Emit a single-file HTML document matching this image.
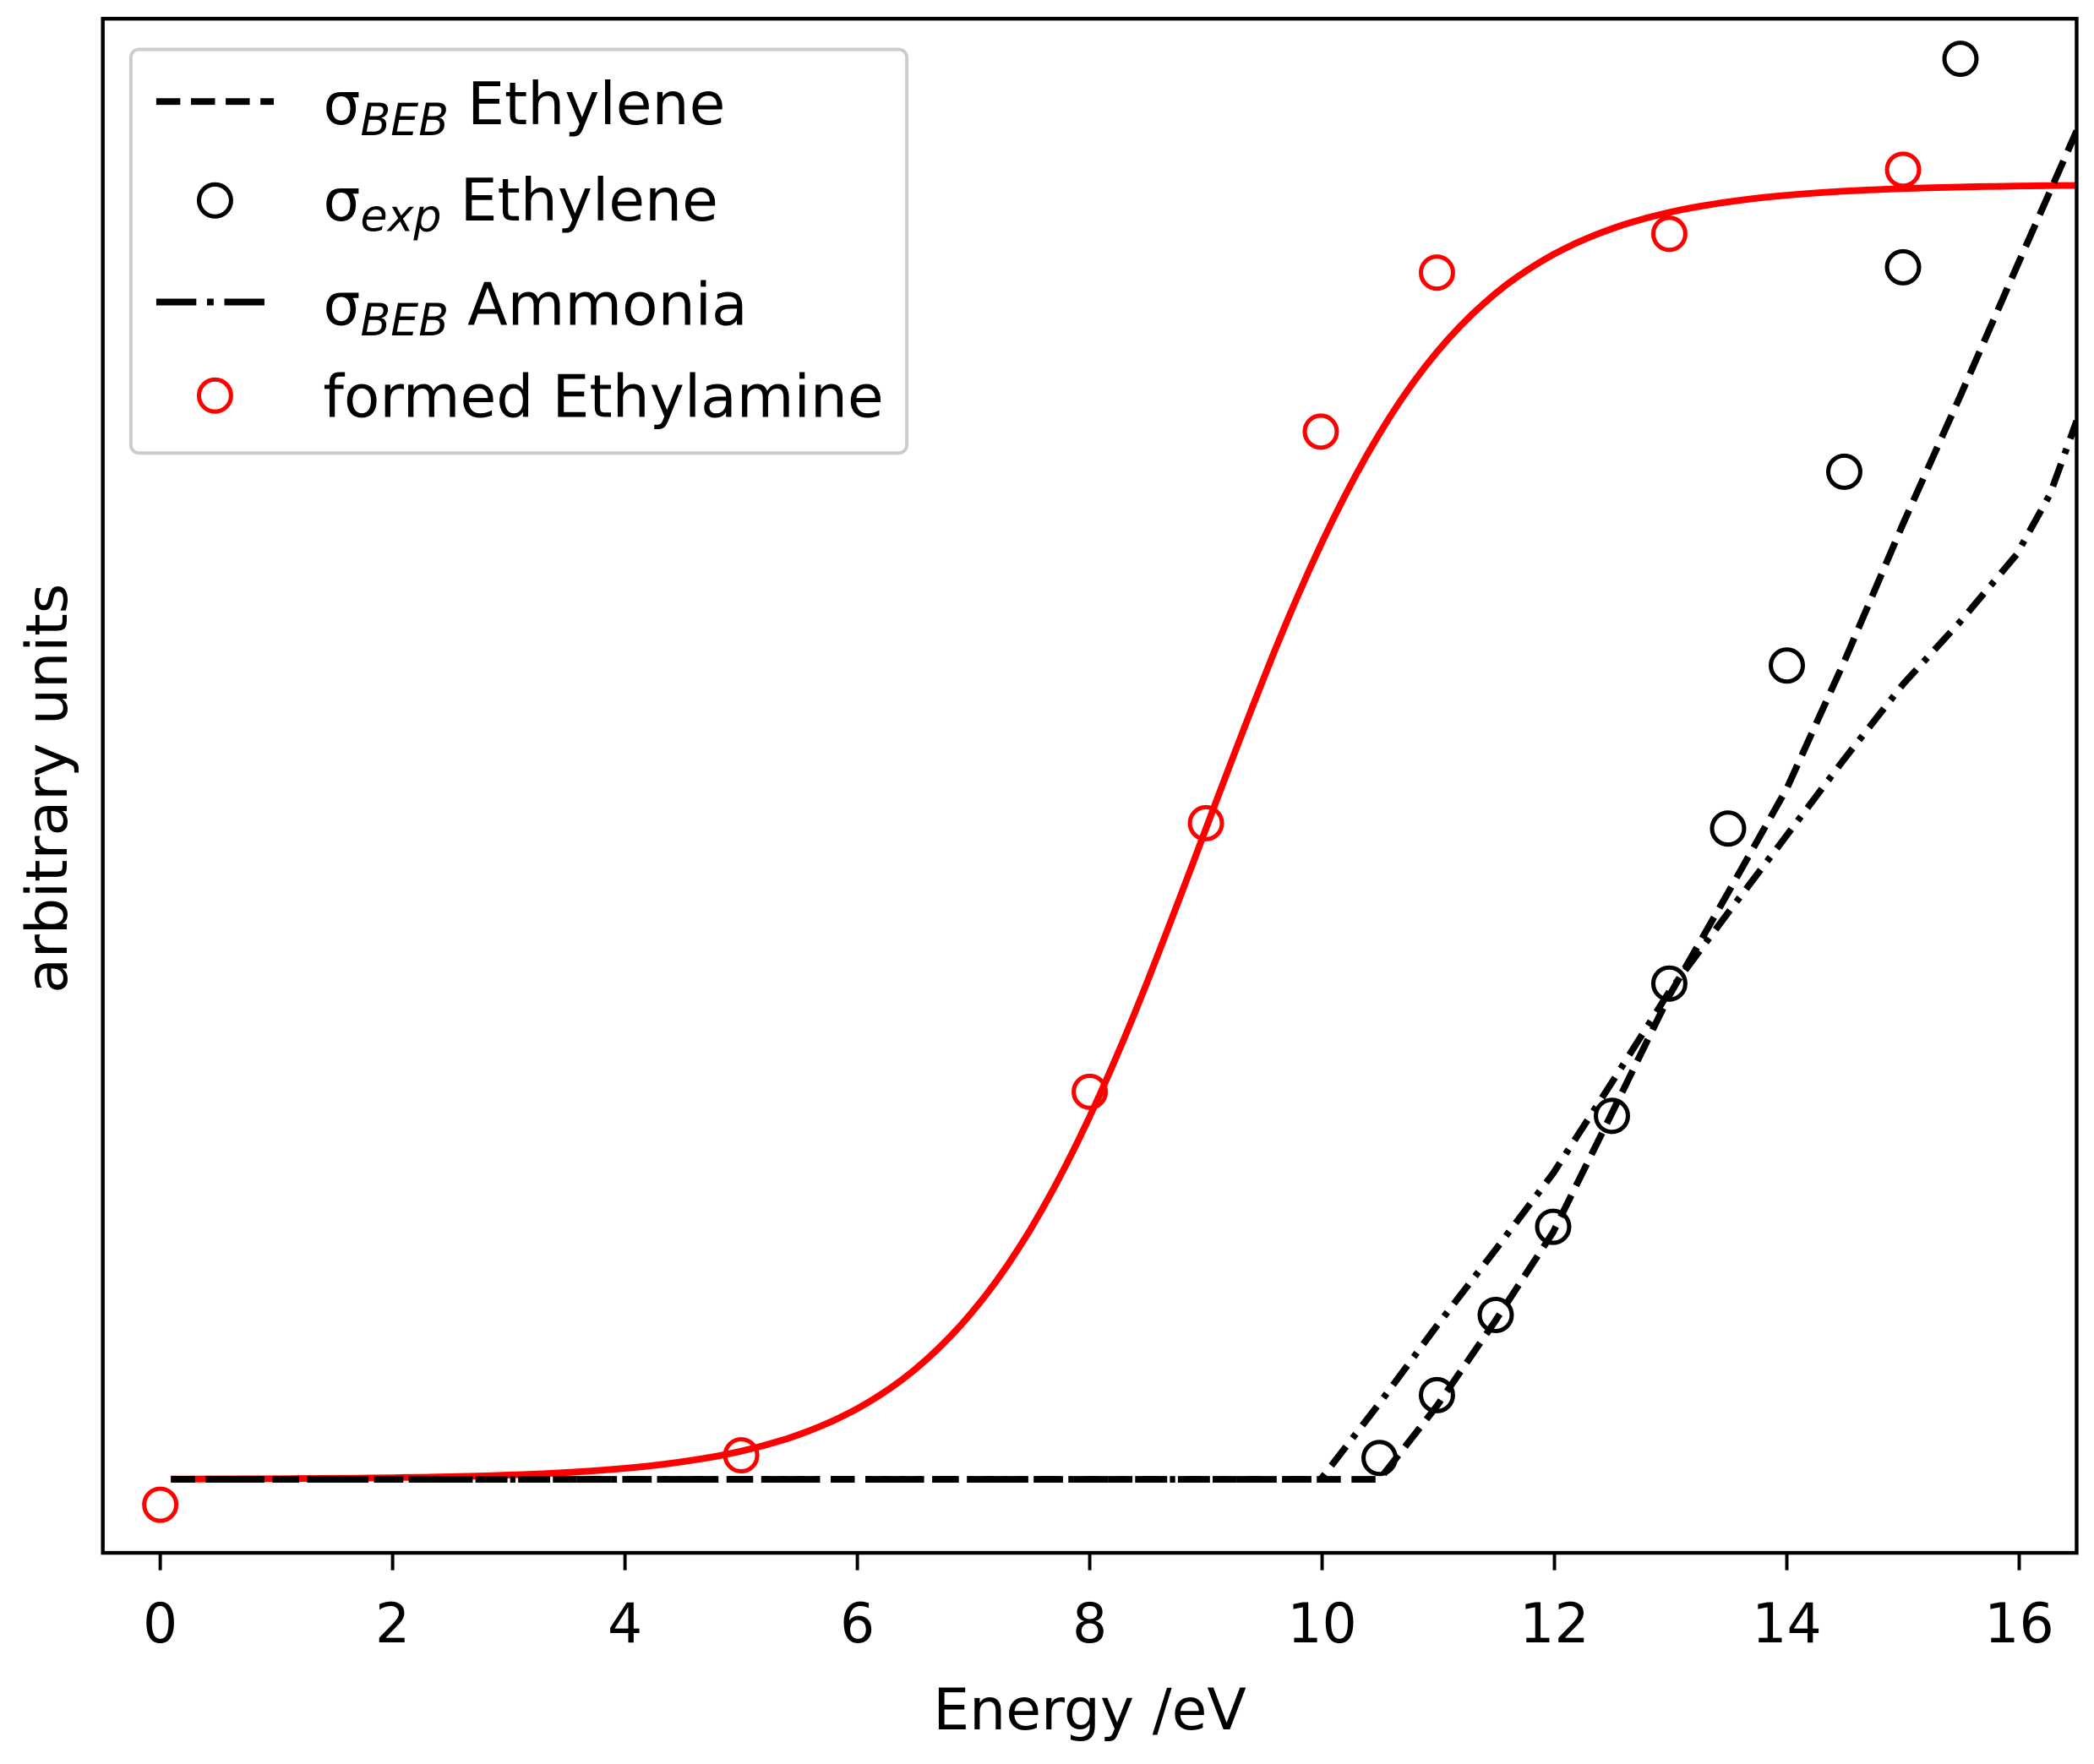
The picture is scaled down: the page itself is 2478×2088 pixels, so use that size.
<!DOCTYPE html>
<html><head><meta charset="utf-8"><style>
html,body{margin:0;padding:0;background:#fff;}
svg{display:block;}
text{font-family:"DejaVu Sans","Liberation Sans",sans-serif;fill:#000;}
</style></head><body>
<svg id="s" width="2478" height="2088" viewBox="0 0 1568 1320" preserveAspectRatio="none" xmlns="http://www.w3.org/2000/svg">
<rect x="0" y="0" width="1568" height="1320" fill="#fff"/>
<defs><clipPath id="c"><rect x="77" y="14" width="1478" height="1148"/></clipPath></defs>
<g clip-path="url(#c)" fill="none" stroke-width="5">
<path id="red" stroke="#ff0000" d=""/>
<path stroke="#000" stroke-dasharray="18,8" d="M128,1107 L1033,1107 L1076,1052 L1120,988 L1163,922 L1207,833 L1250,745 L1294,668 L1338,590 L1381,495 L1425,392 L1468,296 L1510,200 L1555,98"/>
<path stroke="#000" stroke-dasharray="18,8,4,8" d="M128,1107 L989,1107 L1033,1050 L1076,992 L1120,935 L1163,878 L1207,810 L1250,742 L1294,683 L1338,625 L1381,568 L1425,512 L1468,465 L1510,415 L1535,370 L1555,315"/>
</g>
<g fill="none" stroke="#ff0000" stroke-width="3.2">
<ellipse cx="120" cy="1126" rx="12" ry="12"/><ellipse cx="555" cy="1089" rx="12" ry="12"/>
<ellipse cx="816" cy="817" rx="12" ry="12"/><ellipse cx="903" cy="616" rx="12" ry="12"/>
<ellipse cx="989" cy="323" rx="12" ry="12"/><ellipse cx="1076" cy="204" rx="12" ry="12"/>
<ellipse cx="1250" cy="175" rx="12" ry="12"/><ellipse cx="1425" cy="127" rx="12" ry="12"/>
</g>
<g fill="none" stroke="#000" stroke-width="3.2">
<ellipse cx="1033" cy="1091" rx="12" ry="12"/><ellipse cx="1076" cy="1044" rx="12" ry="12"/>
<ellipse cx="1120" cy="984" rx="12" ry="12"/><ellipse cx="1163" cy="918" rx="12" ry="12"/>
<ellipse cx="1207" cy="835" rx="12" ry="12"/><ellipse cx="1250" cy="736" rx="12" ry="12"/>
<ellipse cx="1294" cy="620" rx="12" ry="12"/><ellipse cx="1338" cy="498" rx="12" ry="12"/>
<ellipse cx="1381" cy="353" rx="12" ry="12"/><ellipse cx="1425" cy="200" rx="12" ry="12"/>
<ellipse cx="1468" cy="44" rx="12" ry="12"/>
</g>
<rect x="77" y="14" width="1478" height="1148" fill="none" stroke="#000" stroke-width="2.8"/>
<g stroke="#000" stroke-width="2.5">
<line x1="120" y1="1162" x2="120" y2="1175"/><line x1="294" y1="1162" x2="294" y2="1175"/>
<line x1="468" y1="1162" x2="468" y2="1175"/><line x1="642" y1="1162" x2="642" y2="1175"/>
<line x1="816" y1="1162" x2="816" y2="1175"/><line x1="990" y1="1162" x2="990" y2="1175"/>
<line x1="1164" y1="1162" x2="1164" y2="1175"/><line x1="1338" y1="1162" x2="1338" y2="1175"/>
<line x1="1512" y1="1162" x2="1512" y2="1175"/>
</g>
<g font-size="41" text-anchor="middle">
<text x="120" y="1229">0</text><text x="294" y="1229">2</text><text x="468" y="1229">4</text>
<text x="642" y="1229">6</text><text x="816" y="1229">8</text><text x="990" y="1229">10</text>
<text x="1164" y="1229">12</text><text x="1338" y="1229">14</text><text x="1512" y="1229">16</text>
</g>
<text x="816" y="1294" font-size="43" text-anchor="middle">Energy /eV</text>
<text transform="translate(50,590) rotate(-90)" font-size="43" text-anchor="middle">arbitrary units</text>
<rect x="98" y="37" width="581" height="302" rx="6" fill="#fff" fill-opacity="0.8" stroke="#cccccc" stroke-width="2.5"/>
<line x1="117" y1="76" x2="205" y2="76" stroke="#000" stroke-width="5" stroke-dasharray="18,8"/>
<ellipse cx="161" cy="150" rx="12" ry="12" fill="none" stroke="#000" stroke-width="3.2"/>
<line x1="117" y1="226" x2="205" y2="226" stroke="#000" stroke-width="5" stroke-dasharray="30,8,5,8"/>
<ellipse cx="161" cy="296" rx="12" ry="12" fill="none" stroke="#ff0000" stroke-width="3.2"/>
<g font-size="44">
<text x="242" y="93">σ<tspan font-style="italic" font-size="33" dy="8">BEB</tspan><tspan dy="-8"> Ethylene</tspan></text>
<text x="242" y="165">σ<tspan font-style="italic" font-size="33" dy="8">exp</tspan><tspan dy="-8"> Ethylene</tspan></text>
<text x="242" y="243">σ<tspan font-style="italic" font-size="33" dy="8">BEB</tspan><tspan dy="-8"> Ammonia</tspan></text>
<text x="242" y="312">formed Ethylamine</text>
</g>
</svg>
<script>
(function(){var d="";for(var i=0;i<=170;i++){var E=i*0.1;var f=1/(1+Math.exp(-(E-9)/1.05));var x=120+86.9*E;if(x<128)x=128;var y=1107-969*f;d+=(i?"L":"M")+x.toFixed(1)+","+y.toFixed(1);}document.getElementById("red").setAttribute("d",d);})();
</script>
</body></html>
